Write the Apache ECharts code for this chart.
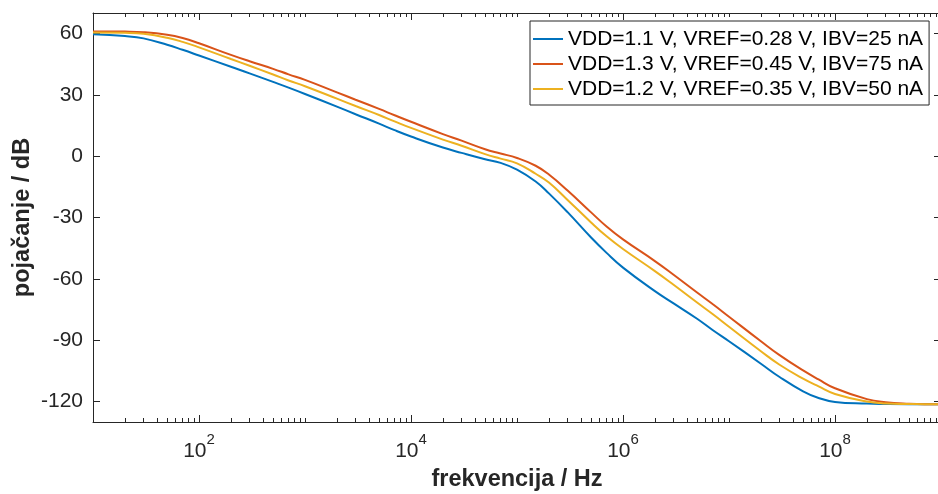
<!DOCTYPE html>
<html>
<head>
<meta charset="utf-8">
<script src="https://cdn.jsdelivr.net/npm/echarts@6/dist/echarts.min.js"></script>
<style>
  html, body { margin: 0; padding: 0; background: #fff; }
  #chart { width: 938px; height: 494px; }
</style>
</head>
<body>
<div id="chart"></div>
<script>
// Frequency grid (Hz)
const freq = [
  10, 20, 30, 50, 70,
  100, 200, 300, 500, 700,
  1e3, 2e3, 3e3, 5e3, 7e3,
  1e4, 2e4, 3e4, 5e4, 7e4,
  1e5, 1.5e5, 2e5, 3e5, 5e5, 7e5,
  1e6, 2e6, 3e6, 5e6, 7e6,
  1e7, 2e7, 3e7, 5e7, 7e7,
  1e8, 2e8, 3e8, 5e8, 7e8,
  1e9
];

// Gain (dB) for each operating point
const gainA = [ // VDD=1.1 V, VREF=0.28 V, IBV=25 nA
  59.6, 58.7, 57.6, 54.5, 52.0,
  49.2, 43.7, 40.5, 36.3, 33.5,
  30.4, 24.2, 20.5, 15.9, 12.7,
  9.6, 4.2, 1.6, -1.5, -3.3,
  -6.6, -12.4, -18.2, -27.4, -39.8, -47.3,
  -54.5, -66.0, -72.0, -79.5, -85.0,
  -90.5, -101.5, -108.0, -115.0, -118.3,
  -120.2, -121.0, -121.2, -121.3, -121.3,
  -121.3
];
const gainB = [ // VDD=1.3 V, VREF=0.45 V, IBV=75 nA
  61.0, 60.9, 60.6, 59.4, 57.8,
  55.2, 49.5, 46.4, 42.7, 40.0,
  37.3, 31.2, 27.6, 23.1, 20.0,
  16.8, 10.8, 7.6, 3.4, 1.3,
  -0.9, -4.7, -9.0, -16.8, -27.5, -34.4,
  -40.7, -51.3, -58.0, -66.7, -72.3,
  -78.5, -90.5, -97.3, -104.8, -109.2,
  -113.5, -118.8, -120.3, -121.1, -121.3,
  -121.3
];
const gainC = [ // VDD=1.2 V, VREF=0.35 V, IBV=50 nA
  60.5, 60.3, 59.8, 57.9, 55.9,
  53.2, 47.5, 44.2, 39.9, 37.0,
  34.2, 28.1, 24.5, 20.1, 17.0,
  13.8, 8.1, 5.1, 1.0, -1.2,
  -3.5, -8.6, -12.9, -21.4, -32.4, -39.2,
  -45.4, -56.2, -62.9, -71.6, -77.2,
  -83.4, -95.4, -102.0, -108.8, -112.6,
  -116.3, -120.0, -120.9, -121.2, -121.3,
  -121.3
];

const seriesNames = [
  'VDD=1.1 V, VREF=0.28 V, IBV=25 nA',
  'VDD=1.3 V, VREF=0.45 V, IBV=75 nA',
  'VDD=1.2 V, VREF=0.35 V, IBV=50 nA'
];
const seriesColors = ['#0072BD', '#D95319', '#EDB120'];

const xTickLabels = [1e2, 1e4, 1e6, 1e8];
const yTickLabels = [-120, -90, -60, -30, 0, 30, 60];

const X_MIN = 10, X_MAX = 1e9, Y_MIN = -130, Y_MAX = 70;

// minor x ticks: every k*10^e inside the range that is not a labelled decade
const xMinor = [];
for (let e = 1; e <= 9; e++) {
  for (let k = 1; k <= 9; k++) {
    const v = k * Math.pow(10, e);
    if (v > X_MAX) break;
    if (!xTickLabels.includes(v)) xMinor.push(v);
  }
}

const axisColor = '#262626';
const fontFamily = '"Liberation Sans", Arial, Helvetica, sans-serif';

function logAxis(position, ticks, tickLen, withLabels, withLine) {
  const ax = {
    type: 'log',
    logBase: 10,
    min: X_MIN,
    max: X_MAX,
    position: position,
    gridIndex: 0,
    axisLine: { show: withLine, onZero: false, lineStyle: { color: axisColor, width: 1 } },
    axisTick: { show: true, inside: true, length: tickLen, customValues: ticks,
                lineStyle: { color: axisColor, width: 1 } },
    splitLine: { show: false },
    minorTick: { show: false },
    axisLabel: { show: false }
  };
  if (withLabels) {
    ax.axisLabel = {
      show: true,
      customValues: xTickLabels,
      margin: 10,
      formatter: v => '{b|10}{s|' + Math.round(Math.log10(v)) + '}',
      rich: {
        b: { fontSize: 21, fontFamily, color: axisColor, lineHeight: 30, verticalAlign: 'bottom' },
        s: { fontSize: 15, fontFamily, color: axisColor, lineHeight: 16, verticalAlign: 'top' }
      }
    };
    ax.name = 'frekvencija / Hz';
    ax.nameLocation = 'middle';
    ax.nameGap = 46;
    ax.nameMoveOverlap = false;
    ax.nameTextStyle = { fontSize: 23.5, fontWeight: 'bold', fontFamily, color: axisColor };
  }
  return ax;
}

function valAxis(position, withLabels) {
  const ax = {
    type: 'value',
    min: Y_MIN,
    max: Y_MAX,
    position: position,
    gridIndex: 0,
    axisLine: { show: true, onZero: false, lineStyle: { color: axisColor, width: 1 } },
    axisTick: { show: true, inside: true, length: 7, customValues: yTickLabels,
                lineStyle: { color: axisColor, width: 1 } },
    splitLine: { show: false },
    axisLabel: { show: false }
  };
  if (withLabels) {
    ax.axisLabel = {
      show: true,
      customValues: yTickLabels,
      margin: 10,
      fontSize: 21,
      fontFamily,
      color: axisColor
    };
    ax.name = 'pojačanje / dB';
    ax.nameLocation = 'middle';
    ax.nameGap = 58;
    ax.nameMoveOverlap = false;
    ax.nameTextStyle = { fontSize: 23.5, fontWeight: 'bold', fontFamily, color: axisColor };
  }
  return ax;
}

const gains = [gainA, gainB, gainC];

const option = {
  animation: false,
  backgroundColor: '#fff',
  textStyle: { fontFamily },
  grid: { left: 93, top: 13, width: 848, height: 409, containLabel: false, outerBoundsMode: 'none' },
  xAxis: [
    logAxis('bottom', xTickLabels, 7, true, true),
    logAxis('top', xTickLabels, 7, false, true),
    logAxis('bottom', xMinor, 4, false, false),
    logAxis('top', xMinor, 4, false, false)
  ],
  yAxis: [
    valAxis('left', true),
    valAxis('right', false)
  ],
  legend: {
    orient: 'vertical',
    left: 530,
    top: 21,
    padding: [7, 6, 5, 3],
    icon: 'rect',
    itemWidth: 30,
    itemHeight: 2,
    itemGap: 3,
    backgroundColor: '#fff',
    borderColor: axisColor,
    borderWidth: 1,
    borderRadius: 0,
    textStyle: { fontSize: 21, fontFamily, color: '#000', lineHeight: 22 },
    data: seriesNames
  },
  series: gains.map((g, i) => ({
    name: seriesNames[i],
    type: 'line',
    xAxisIndex: 0,
    yAxisIndex: 0,
    data: freq.map((f, j) => [f, g[j]]),
    symbol: 'none',
    showSymbol: false,
    smooth: 0.45,
    color: seriesColors[i],
    lineStyle: { width: 2, color: seriesColors[i] },
    z: 3 + i
  }))
};

const chart = echarts.init(document.getElementById('chart'), null, { renderer: 'canvas' });
chart.setOption(option);
</script>
</body>
</html>
